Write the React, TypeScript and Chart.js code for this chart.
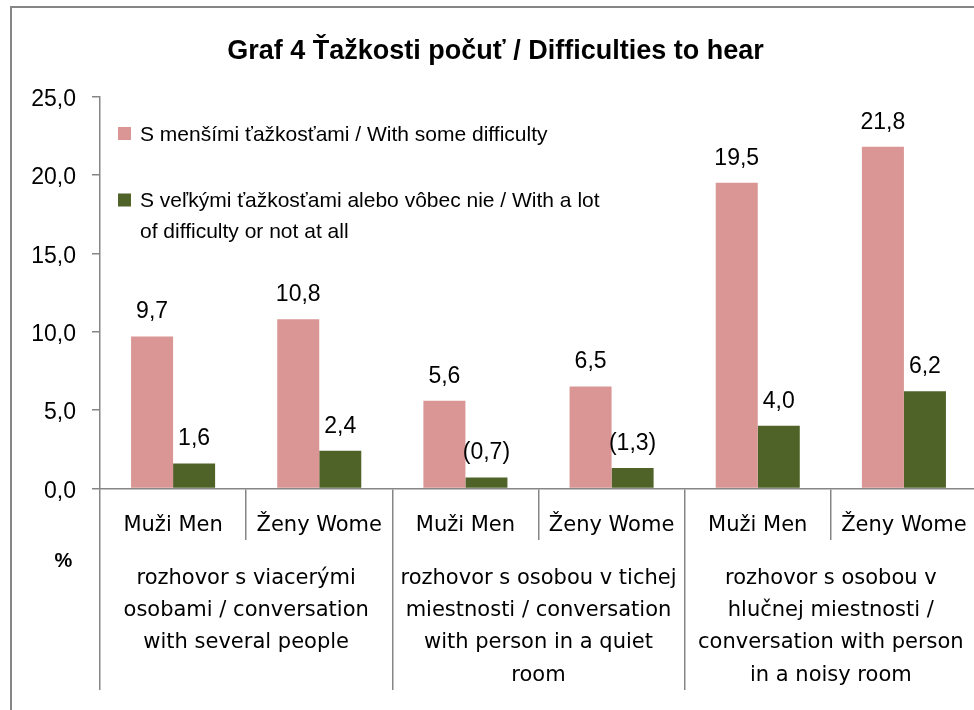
import React, { useEffect, useRef } from 'react';
import { Chart, registerables } from 'chart.js';

Chart.register(...registerables);

// ---- data ----
const titleText = 'Graf 4 Ťažkosti počuť / Difficulties to hear';
const categories = ['Muži Men', 'Ženy Wome', 'Muži Men', 'Ženy Wome', 'Muži Men', 'Ženy Wome'];
const groupLabels = [
  ['rozhovor s viacerými', 'osobami / conversation', 'with several people'],
  ['rozhovor s osobou v tichej', 'miestnosti / conversation', 'with person in a quiet', 'room'],
  ['rozhovor s osobou v', 'hlučnej miestnosti /', 'conversation with person', 'in a noisy room'],
];
const someDifficulty = [9.7, 10.8, 5.6, 6.5, 19.5, 21.8];
const severeDifficulty = [1.6, 2.4, 0.7, 1.3, 4.0, 6.2];
const someLowReliability = [false, false, false, false, false, false];
const severeLowReliability = [false, false, true, true, false, false];
const seriesLegendLines = [
  ['S menšími ťažkosťami / With some difficulty'],
  ['S veľkými ťažkosťami alebo vôbec nie / With a lot', 'of difficulty or not at all'],
];
const yTickValues = [0, 5, 10, 15, 20, 25];
const yAxisTitle = '%';

// ---- styles ----
const PINK = '#D99694';
const GREEN = '#4F6228';
const AXIS = '#868686';
const SANS = "'Liberation Sans', Arial, sans-serif";
const WIDE = "'DejaVu Sans', sans-serif";

const fmt = (v: number) => v.toFixed(1).replace('.', ',');

const dataLabelPlugin = {
  id: 'dataLabels',
  afterDatasetsDraw(chart: any) {
    const ctx = chart.ctx;
    const flags = [someLowReliability, severeLowReliability];
    ctx.save();
    ctx.font = `23px ${SANS}`;
    ctx.fillStyle = '#000';
    ctx.textAlign = 'center';
    ctx.textBaseline = 'middle';
    chart.data.datasets.forEach((ds: any, i: number) => {
      const meta = chart.getDatasetMeta(i);
      meta.data.forEach((el: any, j: number) => {
        const v = ds.data[j] as number;
        const t = flags[i][j] ? `(${fmt(v)})` : fmt(v);
        ctx.fillText(t, el.x, el.y - 24.5);
      });
    });
    ctx.restore();
  },
};

const legendPlugin = {
  id: 'insideLegend',
  afterDraw(chart: any) {
    const ctx = chart.ctx;
    const area = chart.chartArea;
    const sqTops = [30.5, 97];
    ctx.save();
    ctx.font = `21px ${SANS}`;
    ctx.textAlign = 'left';
    ctx.textBaseline = 'middle';
    chart.data.datasets.forEach((ds: any, i: number) => {
      const top = area.top + sqTops[i];
      ctx.fillStyle = ds.backgroundColor;
      ctx.fillRect(area.left + 18, top, 13, 13);
      ctx.fillStyle = '#000';
      seriesLegendLines[i].forEach((line, k) => {
        ctx.fillText(line, area.left + 40, top + 8 + k * 31);
      });
    });
    ctx.restore();
  },
};

const axisTitlePlugin = {
  id: 'axisTitle',
  afterDraw(chart: any) {
    const ctx = chart.ctx;
    const area = chart.chartArea;
    ctx.save();
    ctx.font = `bold 20px ${SANS}`;
    ctx.fillStyle = '#000';
    ctx.textAlign = 'center';
    ctx.textBaseline = 'middle';
    ctx.fillText(yAxisTitle, area.left - 36.5, area.bottom + 72.5);
    ctx.restore();
  },
};

export default function App() {
  const ref = useRef<HTMLCanvasElement>(null);

  useEffect(() => {
    document.body.style.margin = '0';
    document.body.style.overflow = 'hidden';
    const canvas = ref.current!;
    const chart = new Chart(canvas, {
      type: 'bar',
      data: {
        labels: categories,
        datasets: [
          {
            label: seriesLegendLines[0].join(' '),
            data: someDifficulty,
            backgroundColor: PINK,
            xAxisID: 'x',
            yAxisID: 'y',
            barPercentage: 1,
            categoryPercentage: 0.575,
          },
          {
            label: seriesLegendLines[1].join(' '),
            data: severeDifficulty,
            backgroundColor: GREEN,
            xAxisID: 'x',
            yAxisID: 'y',
            barPercentage: 1,
            categoryPercentage: 0.575,
          },
        ],
      },
      options: {
        animation: false,
        responsive: false,
        maintainAspectRatio: false,
        devicePixelRatio: 1,
        layout: { padding: { left: 14, right: 23, top: 0, bottom: 30 } },
        plugins: {
          legend: { display: false },
          tooltip: { enabled: false },
          title: {
            display: true,
            text: titleText,
            color: '#000',
            font: { family: SANS, size: 27, weight: 'bold', lineHeight: 1.2 },
            padding: { top: 35.3, bottom: 28.8 },
          },
        },
        scales: {
          y: {
            type: 'linear',
            position: 'left',
            min: 0,
            max: 25,
            afterBuildTicks: (s: any) => {
              s.ticks = yTickValues.map((v) => ({ value: v }));
            },
            afterFit: (s: any) => {
              s.width = 86;
            },
            ticks: {
              callback: (v: any) => fmt(Number(v)),
              padding: 16,
              labelOffset: 3,
              color: '#000',
              font: { family: SANS, size: 23 },
            },
            grid: { drawOnChartArea: false, drawTicks: true, tickLength: 8, color: AXIS, lineWidth: 1.5 },
            border: { display: true, color: AXIS, width: 1.5 },
          },
          x: {
            type: 'category',
            position: 'bottom',
            weight: 0,
            offset: true,
            afterFit: (s: any) => {
              s.height = 51.5;
            },
            grid: { offset: true, drawOnChartArea: false, drawTicks: true, tickLength: 51.5, color: AXIS, lineWidth: 1.5 },
            border: { display: true, color: AXIS, width: 1.5 },
            ticks: {
              autoSkip: false,
              maxRotation: 0,
              minRotation: 0,
              padding: -27,
              color: '#000',
              font: { family: WIDE, size: 21, lineHeight: 1.2 },
            },
          },
          x2: {
            type: 'category',
            position: 'bottom',
            weight: 1,
            labels: groupLabels as any,
            offset: true,
            afterFit: (s: any) => {
              s.height = 150;
            },
            grid: { offset: true, drawOnChartArea: false, drawTicks: true, tickLength: 150, color: AXIS, lineWidth: 1.5 },
            border: { display: false },
            ticks: {
              autoSkip: false,
              maxRotation: 0,
              minRotation: 0,
              padding: -128,
              color: '#000',
              font: { family: WIDE, size: 21, lineHeight: 32.3 / 21 },
            },
          },
        },
      } as any,
      plugins: [dataLabelPlugin, legendPlugin, axisTitlePlugin],
    });
    return () => chart.destroy();
  }, []);

  return (
    <div
      style={{
        position: 'fixed',
        left: 0,
        top: 0,
        width: 974,
        height: 710,
        overflow: 'hidden',
        background: '#fff',
      }}
    >
      <canvas
        ref={ref}
        width={1000}
        height={720}
        style={{ position: 'absolute', left: 0, top: 0, width: 1000, height: 720 }}
      />
      <div
        style={{
          position: 'absolute',
          left: 10,
          top: 6,
          width: 1200,
          height: 1000,
          borderLeft: `2px solid ${AXIS}`,
          borderTop: `2px solid ${AXIS}`,
          pointerEvents: 'none',
        }}
      />
    </div>
  );
}
